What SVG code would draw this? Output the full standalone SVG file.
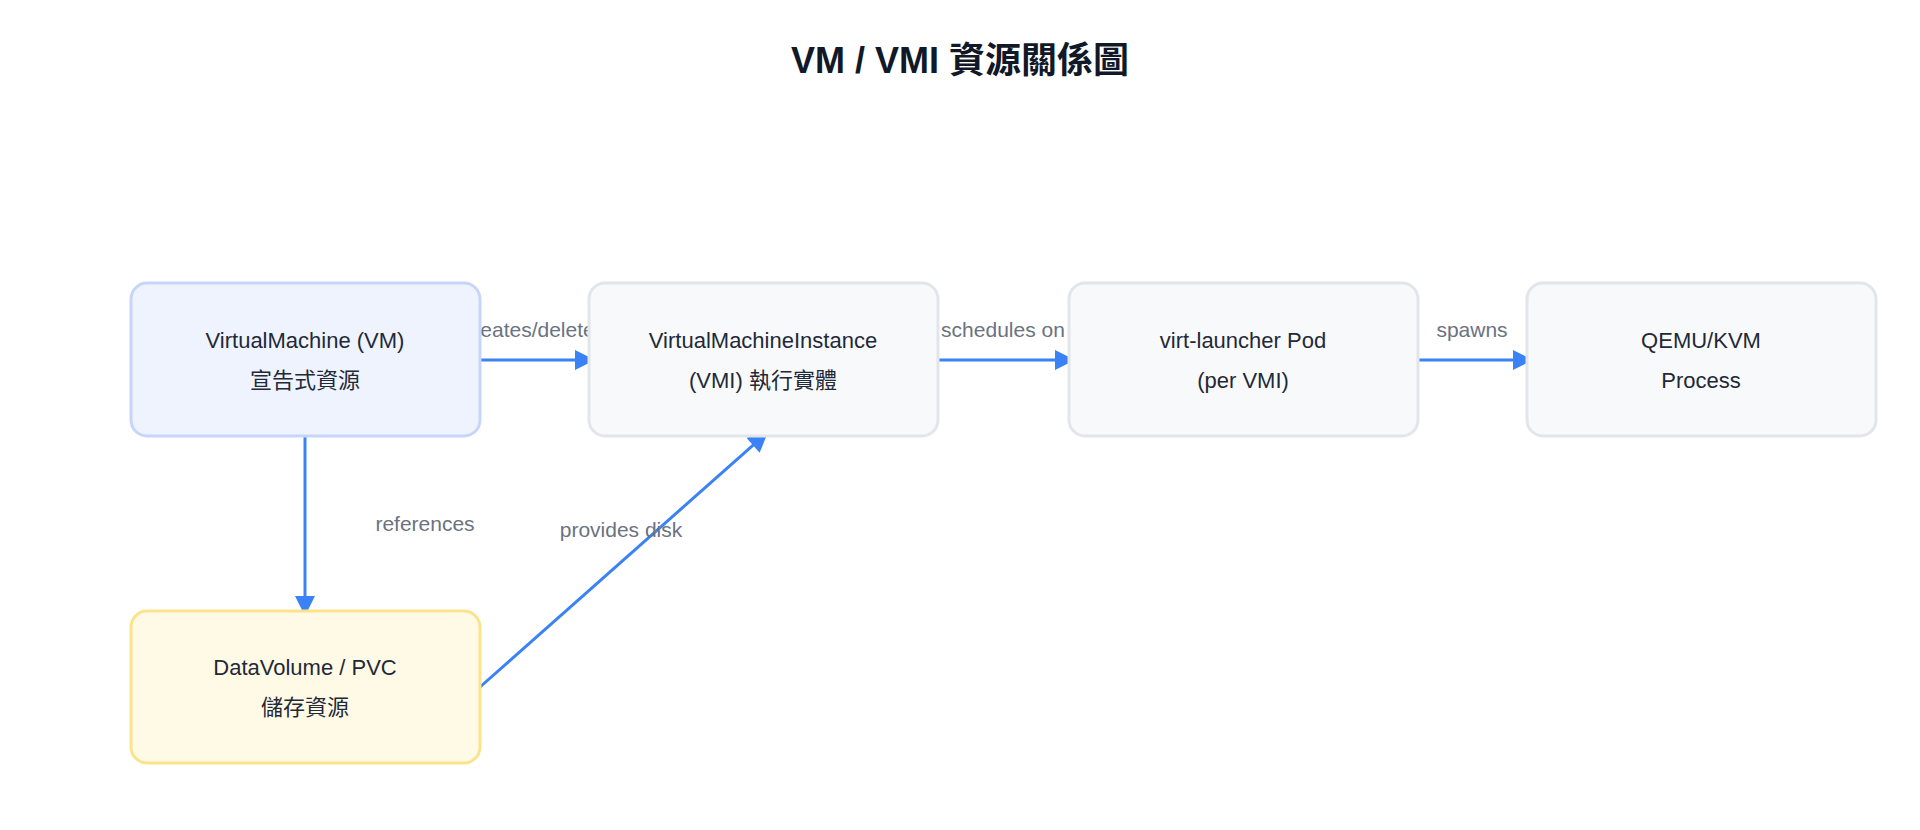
<svg xmlns="http://www.w3.org/2000/svg" width="1920" height="830" viewBox="0 0 1920 830">
<style>
text{font-family:"Helvetica Neue","Liberation Sans","Noto Sans CJK TC",sans-serif}
.t{font-size:22px;fill:#1f2937;text-anchor:middle}
.l{font-size:21px;fill:#6b7280;text-anchor:middle}
.g{fill:#f8f9fb;stroke:#e2e5ea;stroke-width:3}
.e{stroke:#3b82f6;stroke-width:3;fill:none;marker-end:url(#a)}
</style>
<defs><marker id="a" markerWidth="10" markerHeight="10" refX="9" refY="5" orient="auto" markerUnits="userSpaceOnUse" viewBox="0 0 10 10"><path d="M0,0L10,5L0,10z" fill="#3b82f6" transform="scale(1)"/></marker>
<marker id="b" viewBox="0 0 10 10" refX="10" refY="5" markerWidth="24" markerHeight="20" orient="auto" markerUnits="userSpaceOnUse"><path d="M0,0L10,5L0,10z" fill="#3b82f6"/></marker></defs>
<rect width="1920" height="830" fill="#fff"/>
<text x="960" y="73" style="font-size:36px;font-weight:bold;fill:#111827;text-anchor:middle">VM / VMI 資源關係圖</text>
<g id="edges">
<path class="e" style="marker-end:url(#b)" d="M480,360H595"/>
<path class="e" style="marker-end:url(#b)" d="M938,360H1075"/>
<path class="e" style="marker-end:url(#b)" d="M1418,360H1533"/>
<path class="e" style="marker-end:url(#b)" d="M305,436V616"/>
<path class="e" style="marker-end:url(#b)" d="M480,687L768,432"/>
<text class="l" x="534" y="337">creates/deletes</text>
<text class="l" x="1003" y="337">schedules on</text>
<text class="l" x="1472" y="337">spawns</text>
<text class="l" x="425" y="531">references</text>
<text class="l" x="621" y="537">provides disk</text>
</g>
<g id="vm"><rect x="131" y="283" width="349" height="153" rx="16" fill="#eef3fe" stroke="#c7d5fb" stroke-width="3"/><text class="t" x="305" y="348">VirtualMachine (VM)</text><text class="t" x="305" y="388">宣告式資源</text></g>
<g id="vmi"><rect class="g" x="589" y="283" width="349" height="153" rx="16"/><text class="t" x="763" y="348">VirtualMachineInstance</text><text class="t" x="763" y="388">(VMI) 執行實體</text></g>
<g id="pod"><rect class="g" x="1069" y="283" width="349" height="153" rx="16"/><text class="t" x="1243" y="348">virt-launcher Pod</text><text class="t" x="1243" y="388">(per VMI)</text></g>
<g id="qemu"><rect class="g" x="1527" y="283" width="349" height="153" rx="16"/><text class="t" x="1701" y="348">QEMU/KVM</text><text class="t" x="1701" y="388">Process</text></g>
<g id="dv"><rect x="131" y="611" width="349" height="152" rx="16" fill="#fefae6" stroke="#fbe38c" stroke-width="3"/><text class="t" x="305" y="675">DataVolume / PVC</text><text class="t" x="305" y="715">儲存資源</text></g>
</svg>
